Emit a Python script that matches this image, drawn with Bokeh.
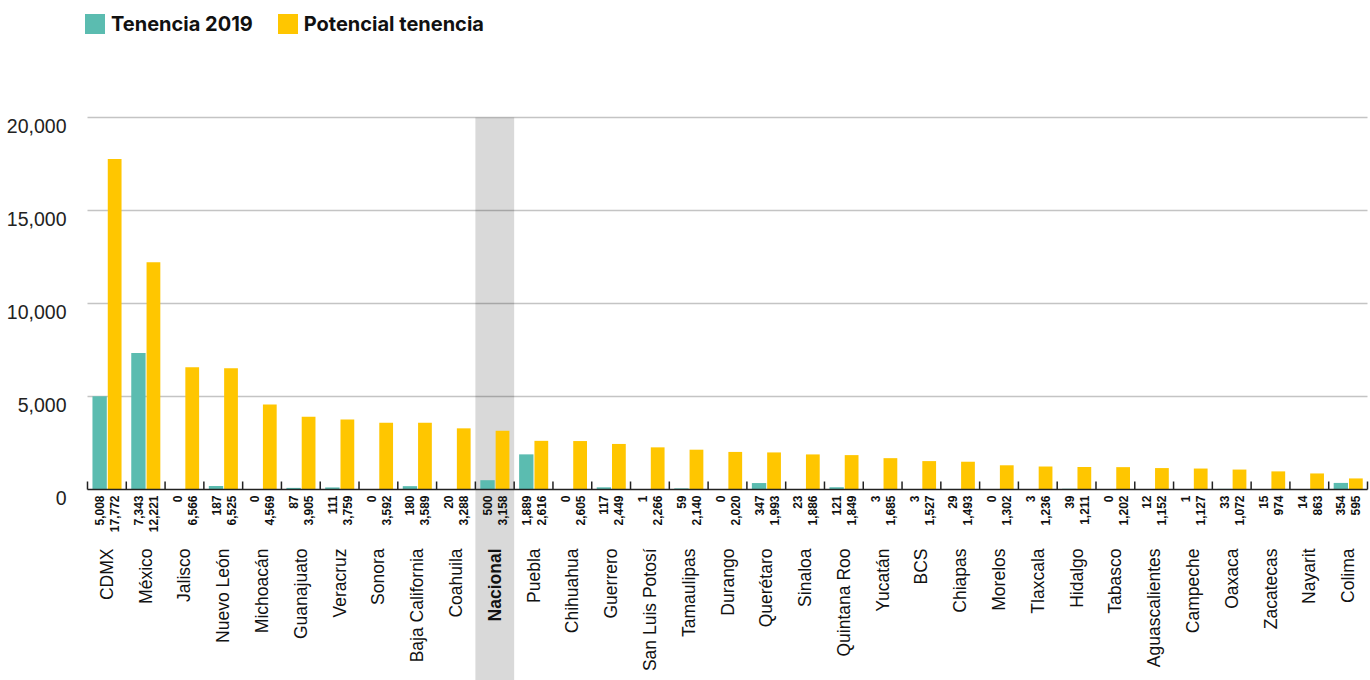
from bokeh.plotting import figure
from bokeh.models import ColumnDataSource, Range1d, Legend, LegendItem
from bokeh.core.properties import value
from bokeh.embed import file_html
from bokeh.resources import INLINE

categories = ["CDMX", "México", "Jalisco", "Nuevo León", "Michoacán", "Guanajuato",
              "Veracruz", "Sonora", "Baja California", "Coahuila", "Nacional", "Puebla",
              "Chihuahua", "Guerrero", "San Luis Potosí", "Tamaulipas", "Durango",
              "Querétaro", "Sinaloa", "Quintana Roo", "Yucatán", "BCS", "Chiapas",
              "Morelos", "Tlaxcala", "Hidalgo", "Tabasco", "Aguascalientes", "Campeche",
              "Oaxaca", "Zacatecas", "Nayarit", "Colima"]
tenencia_2019 = [5008, 7343, 0, 187, 0, 87, 111, 0, 180, 20, 500, 1889, 0, 117, 1, 59, 0,
                 347, 23, 121, 3, 3, 29, 0, 3, 39, 0, 12, 1, 33, 15, 14, 354]
potencial_tenencia = [17772, 12221, 6566, 6525, 4569, 3905, 3759, 3592, 3589, 3288, 3158,
                      2616, 2605, 2449, 2266, 2140, 2020, 1993, 1886, 1849, 1685, 1527,
                      1493, 1302, 1236, 1211, 1202, 1152, 1127, 1072, 974, 863, 595]
y_ticks = [0, 5000, 10000, 15000, 20000]
y_tick_labels = ["0", "5,000", "10,000", "15,000", "20,000"]
highlight = "Nacional"
series_names = ["Tenencia 2019", "Potencial tenencia"]

TEAL = "#5bbcb0"
YELLOW = "#ffc600"
TXT = "#111111"

# ---- layout (pixels) ----
W, H = 1370, 680
FRAME_LEFT, FRAME_RIGHT = 87, 1367      # plotting area in px
Y_TOP_PX, Y_ZERO_PX = 117, 489           # px of top tick and of zero

n = len(categories)
CAT_PX = (FRAME_RIGHT - FRAME_LEFT) / n
PPU = (Y_ZERO_PX - Y_TOP_PX) / y_ticks[-1]   # px per data unit


def px(v):
    return v / PPU


x_start = -FRAME_LEFT / CAT_PX
x_end = n + (W - FRAME_RIGHT) / CAT_PX
y_end = px(Y_ZERO_PX)
y_start = -px(H - Y_ZERO_PX)

idx = list(range(n))
src = ColumnDataSource(dict(
    x1=[i + 0.313 for i in idx],
    x2=[i + 0.70 for i in idx],
    xc=[i + 0.5 for i in idx],
    t=tenencia_2019,
    p=potencial_tenencia,
    tl=[f"{v:,}" for v in tenencia_2019],
    pl=[f"{v:,}" for v in potencial_tenencia],
    cat=categories,
    style=["bold" if c == highlight else "normal" for c in categories],
    yv=[-px(6)] * n,
    yc=[-px(59)] * n,
))

p = figure(width=W, height=H, output_backend="svg", toolbar_location=None,
           x_range=Range1d(x_start, x_end), y_range=Range1d(y_start, y_end),
           x_axis_location=None, y_axis_location=None,
           min_border_left=0, min_border_right=0, min_border_top=0, min_border_bottom=0)
p.outline_line_color = None
p.grid.visible = False
p.background_fill_color = "white"
p.border_fill_color = "white"

# gridlines
grid_y = y_ticks[1:]
p.segment(x0=[0] * len(grid_y), x1=[n] * len(grid_y), y0=grid_y, y1=grid_y,
          line_color="#c4c4c4", line_width=1.5)

# highlight band (translucent so gridlines show through darker)
k = categories.index(highlight)
p.quad(left=[k], right=[k + 1], top=[y_ticks[-1]], bottom=[y_start],
       fill_color="black", fill_alpha=0.15, line_color=None)

r1 = p.vbar(x="x1", top="t", width=0.37, source=src, fill_color=TEAL, line_color=None)
r2 = p.vbar(x="x2", top="p", width=0.355, source=src, fill_color=YELLOW, line_color=None)

# baseline and category boundary ticks
p.segment(x0=[0], x1=[n], y0=[0], y1=[0], line_color="#222222", line_width=1.5)
bounds = list(range(n + 1))
p.segment(x0=bounds, x1=bounds, y0=[0] * (n + 1), y1=[px(8)] * (n + 1),
          line_color="#222222", line_width=1.5)

# y tick labels
p.text(x=[0] * len(y_ticks), y=[t - px(8) for t in y_ticks], text=y_tick_labels,
       x_offset=-21, text_align="right", text_baseline="middle",
       text_font=value("Liberation Sans"), text_font_size="19.5px", text_color="#222222")

# value labels
p.text(x="x1", y="yv", text="tl", source=src, angle=1.5708, text_align="right",
       text_baseline="middle", text_font=value("Liberation Sans"),
       text_font_size="12px", text_font_style="bold", text_color=TXT)
p.text(x="x2", y="yv", text="pl", source=src, angle=1.5708, text_align="right",
       text_baseline="middle", text_font=value("Liberation Sans"),
       text_font_size="12px", text_font_style="bold", text_color=TXT)
# category labels
p.text(x="xc", y="yc", text="cat", source=src, angle=1.5708, text_align="right",
       text_baseline="middle", text_font=value("Liberation Sans"),
       text_font_size="17.5px", text_font_style="style", text_color=TXT)

legend = Legend(items=[LegendItem(label=series_names[0], renderers=[r1]),
                       LegendItem(label=series_names[1], renderers=[r2])],
                orientation="horizontal", location=(82, H - 36),
                glyph_width=25, glyph_height=25, label_standoff=4, spacing=22,
                padding=0, margin=0, border_line_color=None, background_fill_alpha=0,
                label_text_font="Inter", label_text_font_style="bold",
                label_text_font_size="20px", label_text_color=TXT)
p.add_layout(legend)

open("out.html", "w").write(file_html(p, INLINE))
